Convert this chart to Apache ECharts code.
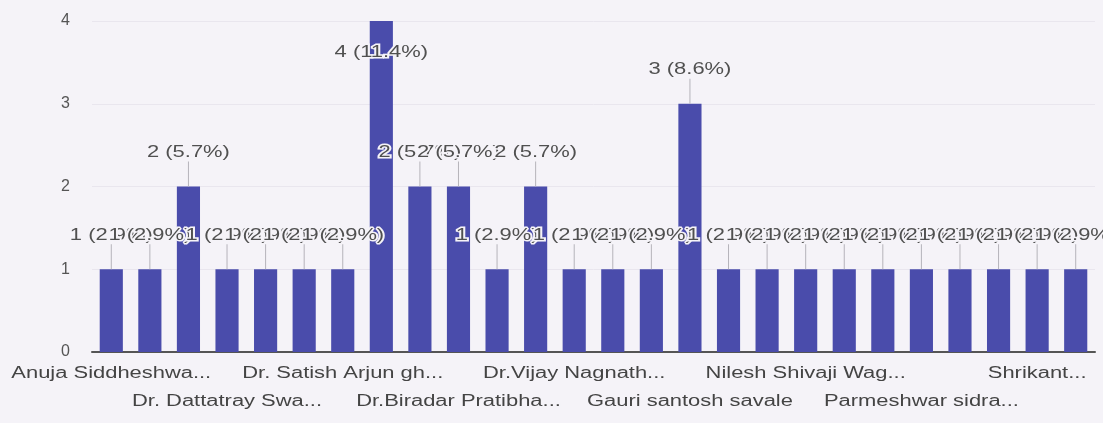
<!DOCTYPE html>
<html>
<head>
<meta charset="utf-8">
<script src="https://cdn.jsdelivr.net/npm/echarts@6/dist/echarts.min.js"></script>
<style>
  html, body { margin: 0; padding: 0; background: #f5f3f8; }
  #chart { width: 1103px; height: 423px; }
</style>
</head>
<body>
<div id="chart"></div>
<script>
// names only readable for every third bar, the rest are hidden in the picture
const names = [
  "Anuja Siddheshwa...", "", "",
  "Dr. Dattatray Swa...", "", "",
  "Dr. Satish Arjun gh...", "", "",
  "Dr.Biradar Pratibha...", "", "",
  "Dr.Vijay Nagnath...", "", "",
  "Gauri santosh savale", "", "",
  "Nilesh Shivaji Wag...", "", "",
  "Parmeshwar sidra...", "", "",
  "Shrikant...", ""
];
const counts = [1, 1, 2, 1, 1, 1, 1, 4, 2, 2, 1, 2, 1, 1, 1, 3, 1, 1, 1, 1, 1, 1, 1, 1, 1, 1];
const total = 35;
const yTicks = [0, 1, 2, 3, 4];

const FONT = "Liberation Sans, Arial, sans-serif";
const BG = "#f5f3f8";
// the photo of the chart is stretched sideways, so text is widened to match
const STRETCH = 1.37;

const chart = echarts.init(document.getElementById("chart"));

function labelText(x, y, text, color) {
  return {
    type: "text",
    x: x,
    y: y,
    scaleX: STRETCH,
    style: {
      text: text,
      fill: color,
      fontSize: 16,
      fontFamily: FONT,
      align: "center",
      verticalAlign: "middle",
      stroke: BG,
      lineWidth: 3
    }
  };
}

const option = {
  backgroundColor: BG,
  animation: false,
  textStyle: { fontFamily: FONT },
  grid: { left: 92, right: 8, top: 21, bottom: 71 },
  xAxis: {
    type: "category",
    data: names.map((n, i) => n || "c" + i),
    axisLine: { lineStyle: { color: "#555", width: 2 } },
    axisTick: { show: false },
    axisLabel: { show: false }
  },
  yAxis: {
    type: "value",
    min: yTicks[0],
    max: yTicks[yTicks.length - 1],
    interval: 1,
    axisLine: { show: false },
    axisTick: { show: false },
    axisLabel: { fontSize: 16, color: "#555", margin: 22 },
    splitLine: { lineStyle: { color: "#e9e6ee" } }
  },
  series: [
    {
      type: "bar",
      data: counts,
      barCategoryGap: "40%",
      itemStyle: { color: "#4a4cab" }
    },
    {
      // annotation stems + text like the google forms labels, and the category names
      type: "custom",
      data: counts.map((v, i) => [i, v]),
      z: 10,
      clip: false,
      renderItem: (params, api) => {
        const i = api.value(0);
        const v = api.value(1);
        const pt = api.coord([i, v]);
        const base = api.coord([i, 0]);
        const txt = v + " (" + (v / total * 100).toFixed(1) + "%)";
        const children = [];
        if (pt[1] - 40 < params.coordSys.y) {
          children.push(labelText(pt[0], pt[1] + 32, txt, "#505050"));
        } else {
          children.push({
            type: "line",
            shape: { x1: pt[0], y1: pt[1], x2: pt[0], y2: pt[1] - 25 },
            style: { stroke: "#b5b3ba", lineWidth: 1 }
          });
          children.push(labelText(pt[0], pt[1] - 34, txt, "#505050"));
        }
        if (i % 3 === 0 && names[i]) {
          const row = (i / 3) % 2;
          children.push(labelText(base[0], base[1] + 22 + row * 28, names[i], "#444"));
        }
        return { type: "group", children: children };
      }
    }
  ]
};

chart.setOption(option);
</script>
</body>
</html>
